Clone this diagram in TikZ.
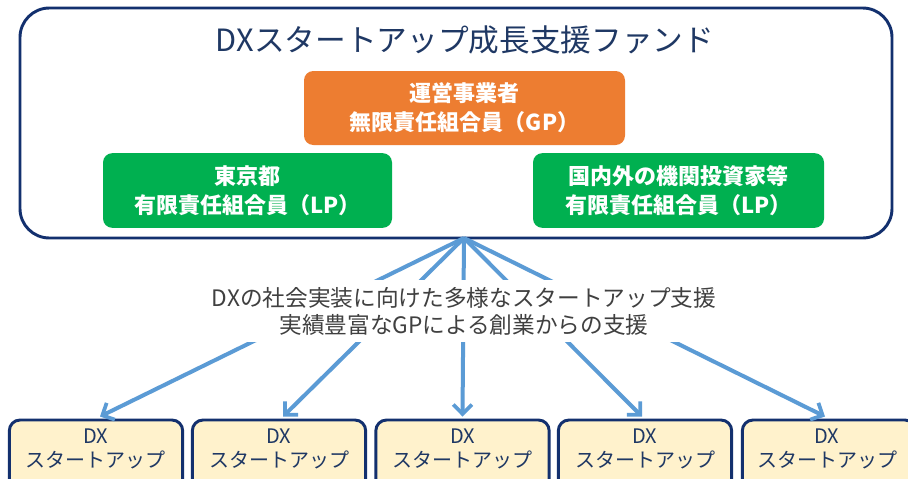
\documentclass[tikz,border=0pt]{standalone}
\usepackage{fontspec}
\setmainfont{Noto Sans CJK JP}
\usetikzlibrary{arrows.meta}
\definecolor{navy}{HTML}{13306E}
\definecolor{titlec}{HTML}{1F3864}
\definecolor{gporange}{HTML}{ED7D31}
\definecolor{lpgreen}{HTML}{00B050}
\definecolor{arrowblue}{HTML}{5B9BD5}
\definecolor{cream}{HTML}{FFF2CC}
\definecolor{midgray}{HTML}{404040}
\tikzset{
  fundbox/.style={draw=navy, line width=2.2pt, rounded corners=22pt, minimum width=654pt, minimum height=172.5pt},
  gpbox/.style={fill=gporange, rounded corners=7pt, text=white, font=\fontsize{16.5}{22}\selectfont\bfseries, align=center},
  lpbox/.style={fill=lpgreen, rounded corners=7pt, text=white, font=\fontsize{16.5}{22}\selectfont\bfseries, align=center, minimum height=56pt},
  subox/.style={draw=navy, line width=2.2pt, fill=cream, rounded corners=8pt, minimum width=130pt, minimum height=60pt},
  sutext/.style={text=titlec, font=\fontsize{15}{18}\selectfont, align=center},
  support/.style={draw=arrowblue, line width=3pt, -{Straight Barb[length=7pt,width=14pt,line width=2.8pt]}},
}
\begin{document}
\begin{tikzpicture}[x=0.75pt,y=-0.75pt]
\useasboundingbox (0,0) rectangle (908,479);
\clip (0,0) rectangle (908,479);
\fill[white] (0,0) rectangle (908,479);
\node[fundbox] (fund) at (456,123) {};
\node[text=titlec, font=\fontsize{23}{28}\selectfont] (title) at (465,40) {DXスタートアップ成長支援ファンド};
\node[gpbox, minimum width=240.75pt, minimum height=55.5pt] (gp) at (464.5,108) {運営事業者\\無限責任組合員（GP）};
\node[lpbox, minimum width=216.75pt] (lp1) at (247.5,190.5) {東京都\\有限責任組合員（LP）};
\node[lpbox, minimum width=218.25pt] (lp2) at (678.5,190.5) {国内外の機関投資家等\\有限責任組合員（LP）};
\coordinate (hub) at (464,238);
\node[subox] (s1) at (96,460) {};
\node[subox] (s2) at (279,460) {};
\node[subox] (s3) at (462.5,460) {};
\node[subox] (s4) at (645,460) {};
\node[subox] (s5) at (829,460) {};
\node[sutext] (t1) at (96,449) {DX\\スタートアップ};
\node[sutext] (t2) at (279,449) {DX\\スタートアップ};
\node[sutext] (t3) at (462.5,449) {DX\\スタートアップ};
\node[sutext] (t4) at (645,449) {DX\\スタートアップ};
\node[sutext] (t5) at (827,449) {DX\\スタートアップ};
\foreach \i/\dx in {1/4,2/4,3/0,4/-3,5/-4}{
  \draw[support] (hub) -- ([xshift=\dx*0.75pt,yshift=1.5pt]s\i.north);
}
\node[fill=white, text=midgray, font=\fontsize{17}{20.25}\selectfont, align=center, inner xsep=40pt, inner ysep=5pt] (mid) at (464,311) {DXの社会実装に向けた多様なスタートアップ支援\\実績豊富なGPによる創業からの支援};
\end{tikzpicture}
\end{document}
